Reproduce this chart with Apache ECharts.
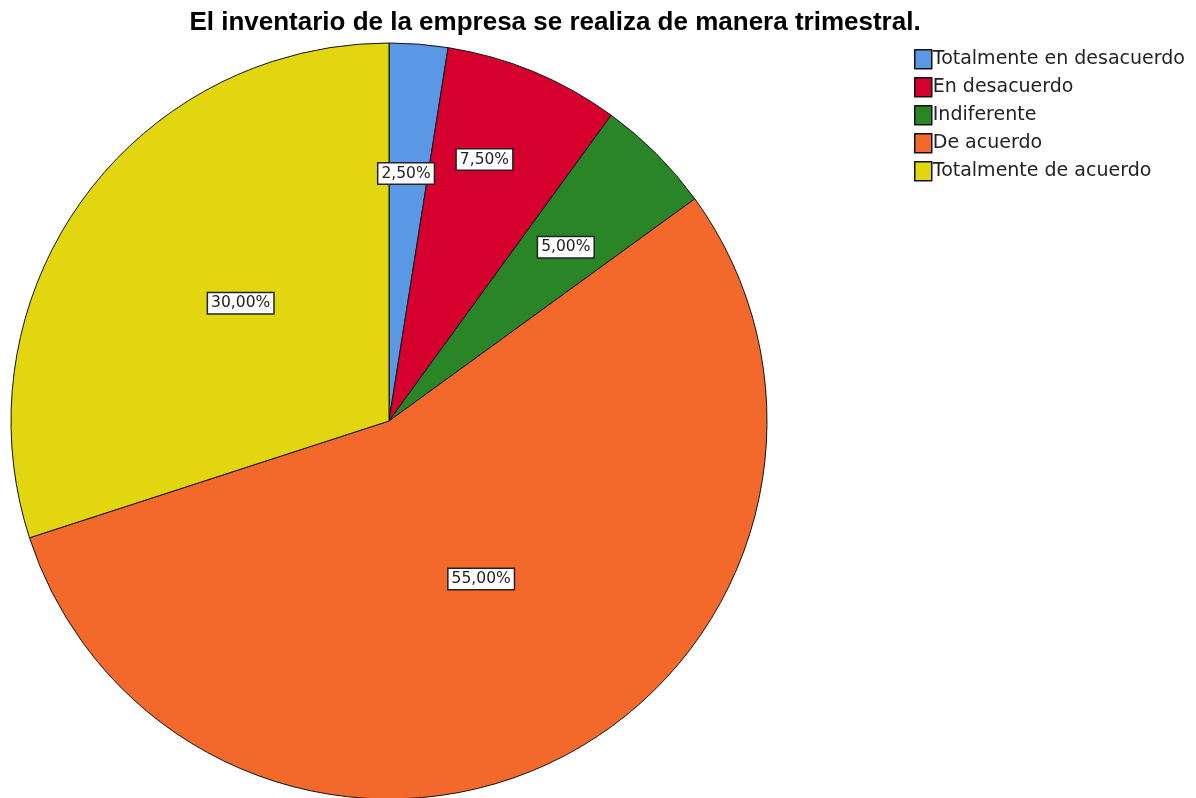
<!DOCTYPE html>
<html><head><meta charset="utf-8">
<script src="https://cdn.jsdelivr.net/npm/echarts@6/dist/echarts.min.js"></script>
<style>html,body{margin:0;padding:0;background:#fff}#c{width:1196px;height:798px}</style>
</head><body><div id="c"></div>
<script>
const categories = ['Totalmente en desacuerdo','En desacuerdo','Indiferente','De acuerdo','Totalmente de acuerdo'];
const values = [2.5, 7.5, 5.0, 55.0, 30.0];
const colors = ['#5A97E4','#D6002F','#2A8526','#F2692B','#E2D610'];
const labelOffsets = [[2,-56],[22,-84],[41,-38],[5,-13],[7,-5]];

const chart = echarts.init(document.getElementById('c'));
chart.setOption({
  animation:false,
  title:{text:'El inventario de la empresa se realiza de manera trimestral.',left:550,top:5,textAlign:'center',
    textStyle:{fontFamily:'Liberation Sans',fontWeight:'bold',fontSize:26,color:'#000'}},
  legend:{orient:'vertical',left:909,top:44,itemWidth:17,itemHeight:19,itemGap:7.5,icon:'rect',
    textStyle:{fontFamily:'DejaVu Sans',fontSize:19,lineHeight:19,color:'#222',padding:[0,0,0,-4]},
    itemStyle:{borderColor:'#111',borderWidth:1.5},
    data:categories},
  series:[{type:'pie',center:[389,421],radius:[0,378],startAngle:90,clockwise:true,
    itemStyle:{borderColor:'#111',borderWidth:1},
    label:{position:'inside',fontFamily:'DejaVu Sans',fontSize:15.5,color:'#222',backgroundColor:'#fff',
      borderColor:'#222',borderWidth:1.5,padding:[3,3,1,3],
      formatter:p=>p.value.toFixed(2).replace('.',',')+'%'},
    labelLine:{show:false},
    emphasis:{disabled:true},
    data:categories.map((n,i)=>({name:n,value:values[i],itemStyle:{color:colors[i]},label:{offset:labelOffsets[i]}}))
  }]
});
</script></body></html>
